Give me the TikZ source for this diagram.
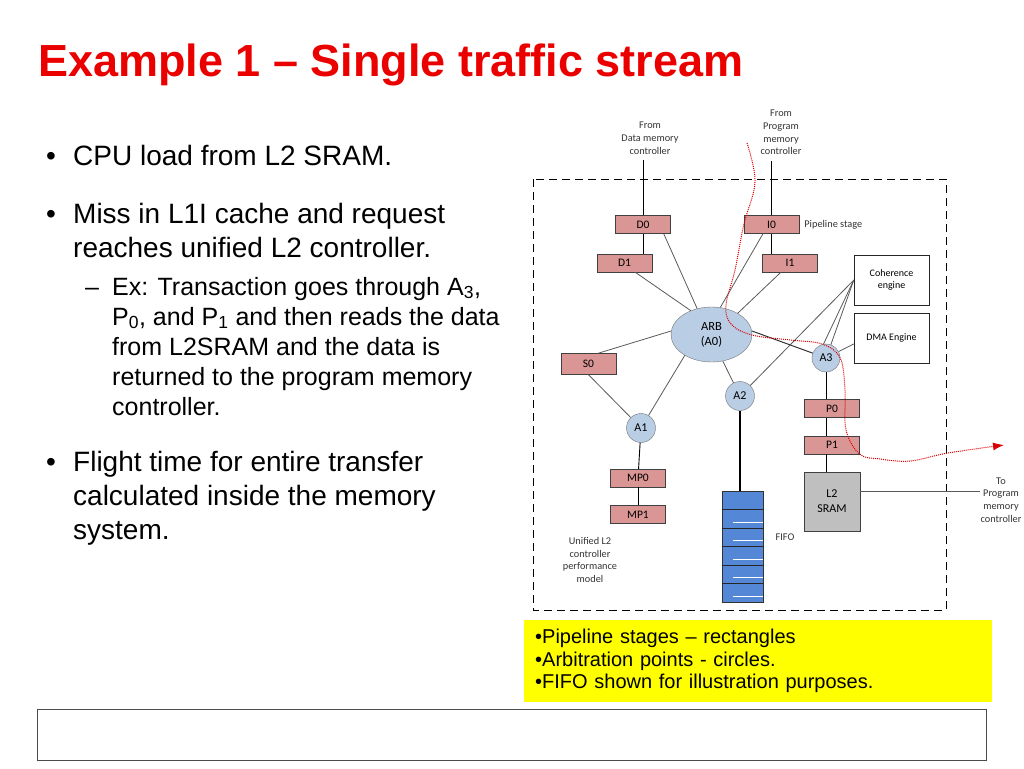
\documentclass[tikz,border=0pt]{standalone}
\usepackage{fontspec}
\setmainfont{Liberation Sans}
\newfontfamily\calib{Carlito}
\usetikzlibrary{shapes, arrows.meta, positioning, calc}

\definecolor{stagered}{RGB}{217,150,148}
\definecolor{arbblue}{RGB}{185,205,229}
\definecolor{fifoblue}{RGB}{84,135,214}
\definecolor{sramgray}{RGB}{191,191,191}
\definecolor{titlered}{RGB}{235,0,0}
\definecolor{notefill}{RGB}{255,255,0}

\begin{document}
\begin{tikzpicture}[
  x=1pt, y=1pt,
  stage/.style={draw=black!75, fill=stagered, minimum width=55pt, minimum height=18pt, inner sep=0pt, font=\calib\fontsize{11.5}{13}\selectfont},
  arbpt/.style={circle, draw=black!55, fill=arbblue, minimum size=29pt, inner sep=0pt, font=\calib\fontsize{12}{14}\selectfont},
  engine/.style={draw=black!85, fill=white, minimum width=75pt, minimum height=50pt, inner sep=0pt, align=center, font=\calib\fontsize{10}{12.5}\selectfont},
  note/.style={align=center, inner sep=0pt, text=black!80, font=\calib\fontsize{10.3}{12.8}\selectfont},
  link/.style={black!65, line width=0.8pt},
  wire/.style={black, line width=0.9pt},
  bullet/.style={anchor=base west, align=left, inner sep=0pt, font=\fontsize{28}{34}\selectfont},
  subbullet/.style={anchor=base west, align=left, inner sep=0pt, font=\fontsize{25}{30}\selectfont},
  flowpath/.style={red!85!black, densely dotted, line width=1pt}
]
\useasboundingbox (0,0) rectangle (1024,-768);

% slide text (multi-line nodes sit on their last baseline)
\node[anchor=base west, inner sep=0pt, text=titlered, font=\fontsize{45}{54}\selectfont\bfseries] (title) at (38,-77) {Example 1 – Single traffic stream};

\node[bullet] (b1m) at (46,-165) {•};
\node[bullet] (b1) at (73,-165) {CPU load from L2 SRAM.};
\node[bullet] (b2m) at (46,-223) {•};
\node[bullet] (b2) at (73,-257) {Miss in L1I cache and request\\reaches unified L2 controller.};
\node[subbullet] (b2am) at (85,-295) {–};
\node[subbullet] (b2a) at (112,-415) {Ex: Transaction goes through A\textsubscript{3},\\P\textsubscript{0}, and P\textsubscript{1} and then reads the data\\from L2SRAM and the data is\\returned to the program memory\\controller.};
\node[bullet] (b3m) at (46,-471) {•};
\node[bullet] (b3) at (73,-539) {Flight time for entire transfer\\calculated inside the memory\\system.};

% memory system model
\draw[black, line width=0.9pt, dash pattern=on 8pt off 5pt] (533,-179) rectangle (946,-610);

\node[note] (dmc) at (650,-138) {From\\Data memory\\controller};
\node[note] (pmc) at (781,-132.5) {From\\Program\\memory\\controller};

\node[stage] (D0) at (643,-224.5) {D0};
\node[stage] (D1) [below=20pt of D0, xshift=-18.5pt] {D1};
\node[stage] (I0) at (771.5,-224.5) {I0};
\node[stage] (I1) [below=20pt of I0, xshift=18.5pt] {I1};
\node[note] (pipelbl) [right=5pt of I0] {Pipeline stage};

\node[engine] (Coh) at (891.5,-280) {Coherence\\engine};
\node[engine] (DMA) [below=8pt of Coh] {DMA Engine};

\node[arbpt, ellipse, minimum width=81pt, minimum height=55pt, align=center, font=\calib\fontsize{12.5}{15}\selectfont] (ARB) at (711.5,-334.5) {ARB\\(A0)};
\node[stage, minimum height=21pt] (S0) at (588.5,-364) {S0};
\node[arbpt] (A1) at (641,-428) {A1};
\node[arbpt] (A2) at (740,-396) {A2};
\node[arbpt, minimum size=28pt] (A3) at (826,-358) {A3};

\node[stage] (MP0) at (638,-478) {MP0};
\node[stage] (MP1) [below=18pt of MP0] {MP1};
\node[stage] (P0) at (832,-408.5) {P0};
\node[stage] (P1) [below=18pt of P0] {P1};

\node[draw=black!75, fill=sramgray, minimum width=56pt, minimum height=59pt, inner sep=0pt, align=center, font=\calib\fontsize{12}{15}\selectfont] (SRAM) at (832,-501.5) {L2\\SRAM};
\node[note] (tpmc) at (1001,-500) {To\\Program\\memory\\controller};

\node[draw=black!80, fill=fifoblue, minimum width=41pt, minimum height=111pt, inner sep=0pt] (FIFO) at (742.5,-546.5) {};
\node[note] (fifolbl) at (785,-537) {FIFO};
\node[note] (unilbl) at (590,-560) {Unified L2\\controller\\performance\\model};

% fifo slots
\foreach \i in {1,...,5} {
  \draw[black!85, line width=0.8pt] ($(FIFO.north west)!\i/6!(FIFO.south west)$) -- ($(FIFO.north east)!\i/6!(FIFO.south east)$);
  \draw[white, line width=0.9pt] ($(FIFO.north west)!{(\i+0.68)/6}!(FIFO.south west)$) ++(11,0) -- ($(FIFO.north east)!{(\i+0.68)/6}!(FIFO.south east)$);
}

% vertical feeds
\draw[wire] (D0.north) -- ([yshift=-6pt]D0.north |- dmc.south);
\draw[wire] (I0.north) -- ([yshift=-6pt]I0.north |- pmc.south);
\draw[wire] (D0.south) -- (D0.south |- D1.north);
\draw[wire] (I0.south) -- (I0.south |- I1.north);
\draw[wire] (A1) -- (MP0);
\draw[wire] (MP0) -- (MP1);
\draw[wire] (A3.south) -- (A3.south |- P0.north);
\draw[wire] (P0.south -| A3) -- (P1.north -| A3);
\draw[wire] (P1.south -| A3) -- (SRAM.north -| A3);
\draw[wire, line width=1.3pt] (A2.south) -- (A2.south |- FIFO.north);
\draw[link] ([yshift=10pt]SRAM.east) -- ([yshift=10pt]SRAM.east -| tpmc.west);

% arbiter links
\draw[link] ([xshift=-7pt]D0.south east) -- (ARB.119);
\draw[link] ([xshift=10.5pt]D1.south) -- (ARB.131);
\draw[link] ([xshift=-8.5pt]I0.south) -- (ARB.72);
\draw[link] ([xshift=-9pt]I1.south) -- (ARB.39);
\draw[link, black!80, line width=1pt] (ARB.5) -- (A3);
\draw[link] (ARB.175) -- ([xshift=9.5pt]S0.north);
\draw[link] (S0.south) -- (A1);
\draw[link] (ARB.218) -- (A1);
\draw[link] (ARB.293) -- (A2);
\draw[link] (Coh.west) -- (A2);
\draw[link] (Coh.west) -- (A3.100);
\draw[link] (Coh.west) -- (A3.70);
\draw[link] ([yshift=-5.5pt]DMA.west) -- (A3);

% request / return route
\coordinate (reqin) at (747,-143);
\coordinate (retout) at (1004,-445);
\draw[flowpath, -{Latex[length=11pt, width=8pt]}] plot[smooth, tension=0.6] coordinates {(reqin) (755,-182) (I0.west) (735,-270) (726,-305) (731,-324) (752,-335) (790,-340) (822,-344) (A3.east) (845,-390) (846,-430) (P1.south east) (880,-459) (910,-461) (948,-453) (retout)};

% legend and footer
\node[fill=notefill, anchor=north west, minimum width=468pt, minimum height=82pt, text width=446pt, inner xsep=11pt, inner ysep=8pt, align=left, font=\fontsize{20}{22.5}\selectfont] (legend) at (524,-620) {•Pipeline stages – rectangles\\•Arbitration points - circles.\\•FIFO shown for illustration purposes.};
\draw[black!70, line width=0.8pt] (37,-709) rectangle (986,-760);
\end{tikzpicture}
\end{document}
